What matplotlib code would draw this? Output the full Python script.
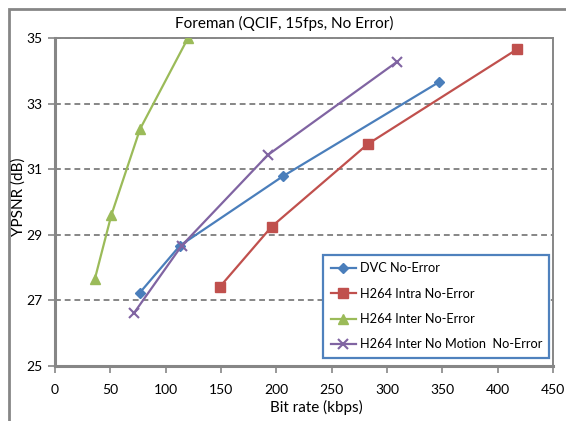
import matplotlib
matplotlib.use('Agg')
import matplotlib.pyplot as plt
from matplotlib.patches import Rectangle

plt.rcParams['font.family'] = ['Lato', 'DejaVu Sans']

# data (kbps, dB)
dvc_rate = [76.8, 112.9, 205.7, 346.7]
dvc_psnr = [27.24, 28.67, 30.78, 33.65]

intra_rate = [149.1, 195.8, 282.8, 417.2]
intra_psnr = [27.42, 29.25, 31.77, 34.65]

inter_rate = [35.9, 50.9, 76.8, 120.2]
inter_psnr = [27.64, 29.6, 32.22, 35.0]

nomo_rate = [71.7, 114.5, 192.2, 309.3]
nomo_psnr = [26.63, 28.67, 31.43, 34.28]

x_ticks = [0, 50, 100, 150, 200, 250, 300, 350, 400, 450]
y_ticks = [25, 27, 29, 31, 33, 35]

grey = '#868686'

fig = plt.figure(figsize=(5.66, 4.21), dpi=100)
ax = fig.add_axes([55 / 566, 1 - 366 / 421, (553 - 55) / 566, (366 - 38) / 421])

# outer chart frame
fig.patches.append(Rectangle((9 / 566, -0.1), 2, 1 - 9 / 421 + 0.1, fill=False,
                             edgecolor=grey, linewidth=2, transform=fig.transFigure))

for y in y_ticks[1:]:
    ax.axhline(y, color=grey, linestyle=(0, (3, 2)), linewidth=1.4, zorder=1)

ax.plot(dvc_rate, dvc_psnr, color='#4A7EBB', marker='D', markersize=5.5, linewidth=1.6,
        label='DVC No-Error', zorder=3)
ax.plot(intra_rate, intra_psnr, color='#C0504D', marker='s', markersize=7, linewidth=1.6,
        label='H264 Intra No-Error', zorder=3)
ax.plot(inter_rate, inter_psnr, color='#9BBB59', marker='^', markersize=7, linewidth=1.6,
        label='H264 Inter No-Error', zorder=3)
ax.plot(nomo_rate, nomo_psnr, color='#8064A2', marker='x', markersize=7, markeredgewidth=1.5,
        linewidth=1.6, label='H264 Inter No Motion  No-Error', zorder=3)

ax.set_xlim(0, 450)
ax.set_ylim(25, 35)
ax.set_xticks(x_ticks)
ax.set_yticks(y_ticks)
ax.tick_params(axis='both', direction='out', length=5, width=1.2, color=grey,
               labelsize=10)
ax.tick_params(axis='y', pad=4)
ax.tick_params(axis='x', pad=8)

for side in ['left', 'bottom']:
    ax.spines[side].set_color(grey)
    ax.spines[side].set_linewidth(2.2)
for side in ['top', 'right']:
    ax.spines[side].set_color(grey)
    ax.spines[side].set_linewidth(1.4)

fig.text(284 / 566, 1 - 23 / 421, 'Foreman (QCIF, 15fps, No Error)', ha='center', va='center',
         fontsize=11)
fig.text(316 / 566, 1 - 407 / 421, 'Bit rate (kbps)', ha='center', va='center', fontsize=11)
fig.text(19 / 566, 1 - 197 / 421, 'YPSNR (dB)', ha='center', va='center', rotation=90,
         fontsize=11)

leg = ax.legend(loc='lower left', bbox_to_anchor=(0.538, 0.024, 0.454, 0.321), mode='expand',
                frameon=True, fancybox=False, fontsize=9.2, handlelength=2.0,
                borderaxespad=0, labelspacing=1.05, handletextpad=0.3, borderpad=0.6)
leg.get_frame().set_edgecolor('#4F81BD')
leg.get_frame().set_linewidth(1.6)
leg.get_frame().set_alpha(1)

fig.savefig('out.png', dpi=100)
